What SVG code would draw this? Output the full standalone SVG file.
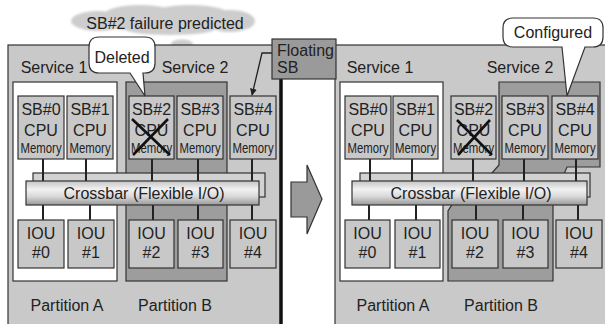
<svg xmlns="http://www.w3.org/2000/svg" width="605" height="324" viewBox="0 0 605 324">
<defs>
<linearGradient id="bar" x1="0" y1="0" x2="0" y2="1">
<stop offset="0" stop-color="#c4c4c4"/>
<stop offset="0.35" stop-color="#f2f2f2"/>
<stop offset="0.65" stop-color="#d8d8d8"/>
<stop offset="1" stop-color="#999"/>
</linearGradient>
<filter id="blur" x="-10%" y="-30%" width="120%" height="160%"><feGaussianBlur stdDeviation="1.1"/></filter>
<marker id="ah" viewBox="0 0 10 10" refX="9" refY="5" markerWidth="7" markerHeight="7" orient="auto" markerUnits="userSpaceOnUse"><path d="M0,0 L10,5 L0,10 Z" fill="#222"/></marker>
<style>
text{font-family:"Liberation Sans",Arial,sans-serif;font-size:16px;fill:#222}
.c{text-anchor:middle}
.mem{font-size:15px}
.panel{fill:#c9c9c9;stroke:#333;stroke-width:1.2}
.pa{fill:#fff;stroke:#333;stroke-width:1.2}
.pb{fill:#9d9d9d;stroke:#333;stroke-width:1.2}
.box{fill:#c8c8c8;stroke:#333;stroke-width:1.2}
.back{fill:#d2d2d2;stroke:#333;stroke-width:1.2}
.front{fill:url(#bar);stroke:#333;stroke-width:1.2}
.ln{stroke:#222;stroke-width:2;fill:none}
.x{stroke:#111;stroke-width:2.6}
.bub{fill:#fff;stroke:#333;stroke-width:1.2}
</style>
</defs>
<rect width="605" height="324" fill="#fff"/>

<!-- cloud -->
<g id="cloud" fill="#cdcdcd" filter="url(#blur)">
<ellipse cx="98" cy="21" rx="27" ry="10"/>
<ellipse cx="140" cy="14" rx="35" ry="9"/>
<ellipse cx="190" cy="15" rx="40" ry="10"/>
<ellipse cx="165" cy="21" rx="72" ry="11"/>
<ellipse cx="230" cy="21" rx="25" ry="11"/>
<ellipse cx="170" cy="29" rx="45" ry="6"/>
<ellipse cx="182" cy="44" rx="11" ry="4.5"/>
<ellipse cx="190" cy="57" rx="3" ry="2"/>
</g>
<text x="165" y="29" class="c">SB#2 failure predicted</text>

<!-- left panel -->
<g id="left-panel">
<rect class="panel" x="8" y="45" width="273" height="290"/>
<line x1="281" y1="79" x2="281" y2="324" stroke="#111" stroke-width="3.5"/>
<rect class="pa" x="13" y="82" width="104" height="199"/>
<rect class="pb" x="126" y="82" width="101" height="199"/>
<text x="54" y="73" class="c">Service 1</text>
<text x="195" y="73" class="c">Service 2</text>
<text x="67" y="311" class="c">Partition A</text>
<text x="175" y="311" class="c">Partition B</text>
</g>

<!-- right panel -->
<g id="right-panel">
<rect class="panel" x="335" y="45" width="280" height="290"/>
<rect class="pa" x="340" y="82" width="103" height="199"/>
<path class="pb" d="M499,82 H600 V167 H567 L553,200 V281 H448 V211 L458,195 L492,173 L499,165 Z"/>
<text x="380" y="73" class="c">Service 1</text>
<text x="520" y="73" class="c">Service 2</text>
<text x="393" y="311" class="c">Partition A</text>
<text x="501" y="311" class="c">Partition B</text>
</g>

<!-- crossbar back rects -->
<rect class="back" x="33" y="173" width="232" height="24"/>
<rect class="back" x="360" y="173" width="230" height="24"/>

<!-- connectors -->
<g id="connectors" class="ln">
<path d="M43,159V181 M86,159V181 M152,159V181 M198,159V181 M252,159V181"/>
<path d="M43,205V220 M90,205V220 M153,205V220 M198,205V220 M252,205V220"/>
<path d="M370,159V181 M412,159V181 M473,159V181 M524,159V181 M576,159V181"/>
<path d="M369,205V220 M416,205V220 M476,205V220 M523,205V220 M578,205V220"/>
<polyline points="272,53 262,53 252,95" stroke-width="1.3" marker-end="url(#ah)"/>
</g>

<!-- crossbars -->
<g id="crossbar-left">
<rect class="front" x="26" y="181" width="233" height="24"/>
<text x="144" y="199" class="c">Crossbar (Flexible I/O)</text>
</g>
<g id="crossbar-right">
<rect class="front" x="352" y="181" width="235" height="24"/>
<text x="471" y="199" class="c">Crossbar (Flexible I/O)</text>
</g>

<!-- left SBs -->
<g id="L-SB0"><rect class="box" x="18" y="96" width="46" height="63"/><text x="41" y="115" class="c">SB#0</text><text x="41" y="136" class="c">CPU</text><text transform="translate(41,153) scale(0.76,1)" class="c mem">Memory</text></g>
<g id="L-SB1"><rect class="box" x="67" y="96" width="46" height="63"/><text x="90" y="115" class="c">SB#1</text><text x="90" y="136" class="c">CPU</text><text transform="translate(90,153) scale(0.76,1)" class="c mem">Memory</text></g>
<g id="L-SB2"><rect class="box" x="129" y="96" width="45" height="63"/><text x="151.5" y="115" class="c">SB#2</text><text x="151.5" y="136" class="c">CPU</text><text transform="translate(151.5,153) scale(0.76,1)" class="c mem">Memory</text>
<path class="x" d="M132,119 L170,155 M168,119 L133,155"/></g>
<g id="L-SB3"><rect class="box" x="177" y="96" width="46" height="63"/><text x="200" y="115" class="c">SB#3</text><text x="200" y="136" class="c">CPU</text><text transform="translate(200,153) scale(0.76,1)" class="c mem">Memory</text></g>
<g id="L-SB4"><rect class="box" x="230" y="96" width="46" height="63"/><text x="253" y="115" class="c">SB#4</text><text x="253" y="136" class="c">CPU</text><text transform="translate(253,153) scale(0.76,1)" class="c mem">Memory</text></g>

<!-- left IOUs -->
<g id="L-IOU0"><rect class="box" x="18" y="220" width="46" height="48"/><text x="41" y="239" class="c">IOU</text><text x="41" y="258" class="c">#0</text></g>
<g id="L-IOU1"><rect class="box" x="68" y="220" width="46" height="48"/><text x="91" y="239" class="c">IOU</text><text x="91" y="258" class="c">#1</text></g>
<g id="L-IOU2"><rect class="box" x="129" y="220" width="45" height="48"/><text x="151.5" y="239" class="c">IOU</text><text x="151.5" y="258" class="c">#2</text></g>
<g id="L-IOU3"><rect class="box" x="178" y="220" width="45" height="48"/><text x="200.5" y="239" class="c">IOU</text><text x="200.5" y="258" class="c">#3</text></g>
<g id="L-IOU4"><rect class="box" x="230" y="220" width="46" height="48"/><text x="253" y="239" class="c">IOU</text><text x="253" y="258" class="c">#4</text></g>

<!-- right SBs -->
<g id="R-SB0"><rect class="box" x="345" y="96" width="46" height="63"/><text x="368" y="115" class="c">SB#0</text><text x="368" y="136" class="c">CPU</text><text transform="translate(368,153) scale(0.76,1)" class="c mem">Memory</text></g>
<g id="R-SB1"><rect class="box" x="393" y="96" width="45" height="63"/><text x="415.5" y="115" class="c">SB#1</text><text x="415.5" y="136" class="c">CPU</text><text transform="translate(415.5,153) scale(0.76,1)" class="c mem">Memory</text></g>
<g id="R-SB2"><rect class="box" x="451" y="96" width="45" height="63"/><text x="473.5" y="115" class="c">SB#2</text><text x="473.5" y="136" class="c">CPU</text><text transform="translate(473.5,153) scale(0.76,1)" class="c mem">Memory</text>
<path class="x" d="M457,120 L492,155 M490,120 L458,155"/></g>
<g id="R-SB3"><rect class="box" x="502" y="96" width="46" height="63"/><text x="525" y="115" class="c">SB#3</text><text x="525" y="136" class="c">CPU</text><text transform="translate(525,153) scale(0.76,1)" class="c mem">Memory</text></g>
<g id="R-SB4"><rect class="box" x="552" y="96" width="46" height="63"/><text x="575" y="115" class="c">SB#4</text><text x="575" y="136" class="c">CPU</text><text transform="translate(575,153) scale(0.76,1)" class="c mem">Memory</text></g>

<!-- right IOUs -->
<g id="R-IOU0"><rect class="box" x="345" y="220" width="45" height="48"/><text x="367.5" y="239" class="c">IOU</text><text x="367.5" y="258" class="c">#0</text></g>
<g id="R-IOU1"><rect class="box" x="395" y="220" width="45" height="48"/><text x="417.5" y="239" class="c">IOU</text><text x="417.5" y="258" class="c">#1</text></g>
<g id="R-IOU2"><rect class="box" x="452" y="220" width="46" height="48"/><text x="475" y="239" class="c">IOU</text><text x="475" y="258" class="c">#2</text></g>
<g id="R-IOU3"><rect class="box" x="503" y="220" width="45" height="48"/><text x="525.5" y="239" class="c">IOU</text><text x="525.5" y="258" class="c">#3</text></g>
<g id="R-IOU4"><rect class="box" x="556" y="220" width="46" height="48"/><text x="579" y="239" class="c">IOU</text><text x="579" y="258" class="c">#4</text></g>

<!-- floating SB -->
<g id="floating-sb">
<rect x="272" y="39" width="64" height="40" fill="#9a9a9a" stroke="#333" stroke-width="1.2"/>
<text x="277" y="56">Floating</text>
<text x="277" y="73">SB</text>
</g>

<!-- transition arrow -->
<g id="arrow">
<path d="M291,182 H307 V165 L322,199 L307,234 V217 H291 Z" fill="#9a9a9a" stroke="#333" stroke-width="1.2"/>
</g>

<!-- balloons -->
<g id="deleted-balloon">
<path class="bub" d="M99,37 H145 Q155,37 155,47 V63 Q155,73 145,73 H143 L145,96 L130,73 H99 Q89,73 89,63 V47 Q89,37 99,37 Z"/>
<text x="122" y="63" class="c">Deleted</text>
</g>
<g id="configured-balloon">
<path class="bub" d="M513,18 H593 Q603,18 603,28 V37 Q603,47 593,47 H585 L567,96 L562,47 H513 Q503,47 503,37 V28 Q503,18 513,18 Z"/>
<text x="553" y="38" class="c">Configured</text>
</g>
</svg>
